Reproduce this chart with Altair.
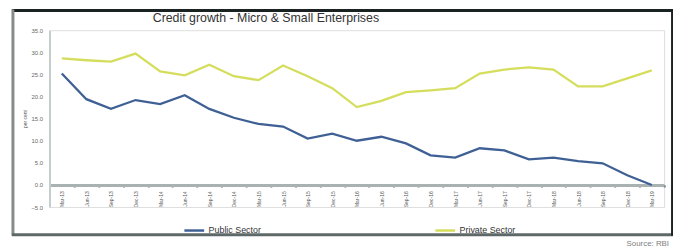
import altair as alt
import pandas as pd

categories = ["Mar-13", "Jun-13", "Sep-13", "Dec-13", "Mar-14", "Jun-14", "Sep-14", "Dec-14",
              "Mar-15", "Jun-15", "Sep-15", "Dec-15", "Mar-16", "Jun-16", "Sep-16", "Dec-16",
              "Mar-17", "Jun-17", "Sep-17", "Dec-17", "Mar-18", "Jun-18", "Sep-18", "Dec-18",
              "Mar-19"]
public_sector = [25.2, 19.4, 17.2, 19.2, 18.3, 20.3, 17.2, 15.2, 13.8, 13.2, 10.5, 11.6, 10.0,
                 10.9, 9.4, 6.7, 6.2, 8.3, 7.8, 5.8, 6.2, 5.4, 4.9, 2.2, 0.0]
private_sector = [28.6, 28.2, 27.9, 29.7, 25.7, 24.8, 27.2, 24.6, 23.7, 27.0, 24.6, 21.9, 17.6,
                  19.0, 21.0, 21.4, 21.9, 25.2, 26.1, 26.6, 26.1, 22.3, 22.3, 24.1, 25.9]
series_names = ["Public Sector", "Private Sector"]
series_colors = ["#3f6095", "#d5de5c"]
y_ticks = [-5, 0, 5, 10, 15, 20, 25, 30, 35]
title_text = "Credit growth - Micro & Small Enterprises"
source_text = "Source: RBI"

rows = []
for i, c in enumerate(categories):
    rows.append({"period": c, "order": i, "series": series_names[0], "value": public_sector[i]})
    rows.append({"period": c, "order": i, "series": series_names[1], "value": private_sector[i]})
df = pd.DataFrame(rows)

W, H = 622, 179

lines = alt.Chart(df).mark_line(strokeWidth=2.3).encode(
    x=alt.X("period:N", sort=categories,
            scale=alt.Scale(paddingInner=0, paddingOuter=0),
            axis=alt.Axis(title=None, labelAngle=270, labelFontSize=5, labelColor="#555555",
                          domainColor="#a9b1b1", domainWidth=3, tickColor="#4a5555",
                          tickSize=2, tickWidth=2, tickBand="extent", offset=-22.4,
                          labelPadding=4)),
    y=alt.Y("value:Q", scale=alt.Scale(domain=[-5, 35], nice=False, zero=False),
            axis=alt.Axis(values=y_ticks, format=".1f", labelFontSize=6, labelColor="#666666",
                          domainColor="#c5cdcd", domainWidth=2, ticks=False, grid=False,
                          title="per cent", titleFontSize=5, titleFontWeight="normal",
                          titleColor="#555555", titlePadding=3, labelPadding=7)),
    color=alt.Color("series:N", scale=alt.Scale(domain=series_names, range=series_colors),
                    title=None,
                    legend=alt.Legend(orient="none", legendX=135, legendY=191,
                                      direction="horizontal", symbolType="stroke",
                                      symbolSize=400, symbolStrokeWidth=2.5,
                                      labelFontSize=9, labelColor="#333333",
                                      columnPadding=170, labelOffset=3)),
    detail="series:N",
)

one = pd.DataFrame({"a": [0]})
frame_top = alt.Chart(one).mark_rule(color="#1b2222", strokeWidth=3).encode(
    x=alt.value(-38), x2=alt.value(631), y=alt.value(-20))
frame_left = alt.Chart(one).mark_rule(color="#858a8a", strokeWidth=3).encode(
    x=alt.value(-37), y=alt.value(-21), y2=alt.value(208))
frame_bottom = alt.Chart(one).mark_rule(color="#5f6868", strokeWidth=3).encode(
    x=alt.value(-38), x2=alt.value(631), y=alt.value(207))
frame_right = alt.Chart(one).mark_rule(color="#1b2222", strokeWidth=2).encode(
    x=alt.value(630), y=alt.value(-21), y2=alt.value(208))

title = alt.Chart(pd.DataFrame({"t": [title_text]})).mark_text(
    fontSize=12.5, color="#333333", align="center", baseline="middle").encode(
    text="t:N", x=alt.value(219), y=alt.value(-12))
source = alt.Chart(pd.DataFrame({"t": [source_text]})).mark_text(
    fontSize=8, color="#808080", align="right", baseline="middle").encode(
    text="t:N", x=alt.value(627), y=alt.value(216))

chart = alt.layer(frame_top, frame_left, frame_bottom, frame_right, lines, title, source).properties(
    width=W, height=H,
    autosize=alt.AutoSizeParams(type="none"),
    padding={"left": 42, "top": 21, "right": 11, "bottom": 42},
).configure_view(stroke=None).configure(font="Liberation Sans")

chart.save("out.html", embed_options={"renderer": "svg", "actions": False})
